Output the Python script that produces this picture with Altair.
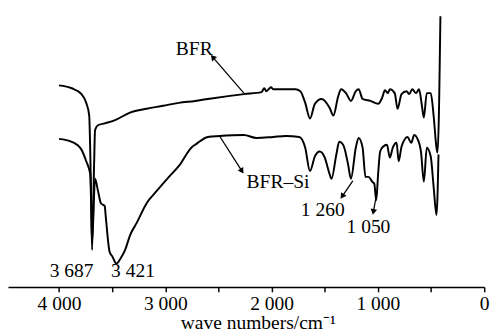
import math
import altair as alt
import pandas as pd

# ---- data (wavenumber in cm^-1, transmittance in arbitrary units) ----
bfr_wn = [4000, 3881, 3789, 3744, 3716, 3707, 3698, 3689, 3670, 3661,
          3634, 3570, 3478, 3332, 3176, 3021, 2874, 2719, 2600, 2261,
          2096, 2069, 2050, 2005, 1986, 1831, 1776, 1730, 1684, 1639,
          1593, 1529, 1455, 1419, 1373, 1346, 1300, 1254, 1208, 1181,
          1144, 1071, 998, 961, 934, 906, 888, 842, 815, 778,
          732, 705, 677, 641, 613, 586, 568, 540, 503, 476,
          449, 439, 412]
bfr_t = [207, 204, 198, 189, 176, 143, 93, 38, 126, 161,
         166, 168, 171, 179, 183, 186, 189, 191, 193, 198,
         200, 204, 201, 205, 203, 203, 203, 201, 189, 173,
         188, 193, 184, 176, 196, 203, 199, 191, 201, 203,
         193, 191, 188, 194, 202, 199, 203, 199, 183, 198,
         201, 198, 203, 199, 203, 186, 174, 199, 199, 176,
         143, 138, 278]

bfrsi_wn = [4000, 3881, 3789, 3744, 3707, 3698, 3689, 3661, 3634, 3606,
            3570, 3561, 3524, 3497, 3460, 3423, 3378, 3332, 3268, 3176,
            3085, 2966, 2874, 2746, 2719, 2600, 2490, 2261, 2142, 1986,
            1867, 1739, 1684, 1639, 1593, 1547, 1501, 1455, 1437, 1391,
            1364, 1327, 1281, 1254, 1208, 1181, 1144, 1117, 1089, 1053,
            1034, 1016, 998, 979, 952, 915, 888, 860, 824, 805,
            778, 751, 723, 686, 659, 632, 595, 568, 540, 503,
            476, 449, 430]
bfrsi_t = [152, 149, 141, 129, 116, 86, 46, 111, 99, 86,
           83, 73, 36, 31, 24, 29, 38, 53, 66, 86,
           98, 113, 124, 144, 146, 154, 155, 156, 153, 154,
           155, 154, 143, 119, 134, 139, 133, 116, 111, 136,
           149, 146, 126, 111, 143, 153, 143, 113, 113, 108,
           106, 89, 116, 139, 144, 146, 133, 143, 148, 129,
           144, 151, 154, 148, 156, 153, 139, 108, 143, 134,
           103, 74, 136]

# annotation texts
label_text = ["BFR", "BFR–Si", "1 260", "1 050", "3 687", "3 421"]
label_wn = [2728, 1940, 1519, 1089, 3881, 3304]
label_t = [244, 108, 79, 61, 16, 16]

# arrows: tail on curve -> head
arrow_wn = [2261, 2490, 1236, 1007]
arrow_t = [199, 155, 109, 98]
arrow_wn2 = [2554, 2279, 1336, 1043]
arrow_t2 = [236, 119, 93, 77]

tick_values = list(range(0, 4001, 500))

# ---- chart ----
W, H = 489, 278
XMAX, YMAX = 4480, 278

rows = []
for name, wn, t in (("BFR", bfr_wn, bfr_t), ("BFR-Si", bfrsi_wn, bfrsi_t)):
    for i, (a, b) in enumerate(zip(wn, t)):
        rows.append({"series": name, "idx": i, "wn": a, "t": b})
spec_df = pd.DataFrame(rows)

lab_df = pd.DataFrame({"text": label_text, "wn": label_wn, "t": label_t})

sx = W / XMAX
sy = H / YMAX
angles = []
for a, b, a2, b2 in zip(arrow_wn, arrow_t, arrow_wn2, arrow_t2):
    dx = -(a2 - a) * sx
    dy = -(b2 - b) * sy
    angles.append(math.degrees(math.atan2(dx, -dy)) % 360)
arr_df = pd.DataFrame({"wn": arrow_wn, "t": arrow_t, "wn2": arrow_wn2,
                       "t2": arrow_t2, "angle": angles})

xscale = alt.Scale(domain=[0, XMAX], reverse=True, nice=False, zero=False)
yscale = alt.Scale(domain=[0, YMAX], nice=False, zero=False)
xaxis = alt.Axis(
    values=tick_values,
    labelExpr="datum.value % 1000 == 0 ? (datum.value == 0 ? '0' : floor(datum.value/1000) + ' 000') : ''",
    title="wave numbers/cm⁻¹",
    grid=False,
    domainColor="black", domainWidth=1.5,
    tickColor="black", tickWidth=1.5, tickSize=5,
    labelFont="Liberation Serif", labelFontSize=20, labelColor="black",
    labelPadding=2, labelFlush=False, labelOverlap=False,
    titleFont="Liberation Serif", titleFontSize=20, titleFontWeight="normal",
    titleColor="black", titlePadding=0, titleX=W / 2 + 12,
)

X = alt.X("wn:Q", scale=xscale, axis=xaxis)
Y = alt.Y("t:Q", scale=yscale, axis=None)

lines = alt.Chart(spec_df).mark_line(
    color="black", strokeWidth=2, interpolate="monotone"
).encode(x=X, y=Y, detail="series:N", order="idx:Q")

texts = alt.Chart(lab_df).mark_text(
    font="Liberation Serif", fontSize=20, color="black",
    align="center", baseline="middle"
).encode(x=X, y=Y, text="text:N")

rules = alt.Chart(arr_df).mark_rule(color="black", strokeWidth=1.3).encode(
    x=X, y=Y, x2="wn2:Q", y2="t2:Q"
)

heads = alt.Chart(arr_df).mark_point(
    shape="triangle-up", filled=True, color="black", size=45, opacity=1
).encode(
    x=alt.X("wn2:Q", scale=xscale, axis=xaxis),
    y=alt.Y("t2:Q", scale=yscale, axis=None),
    angle=alt.Angle("angle:Q", scale=None),
)

chart = alt.layer(lines, rules, heads, texts).properties(
    width=W, height=H,
    padding={"left": 0, "top": 0, "right": 3, "bottom": 0},
    background="white",
).configure_view(stroke=None)

chart.save("out.html", embed_options={"renderer": "svg", "actions": False})
